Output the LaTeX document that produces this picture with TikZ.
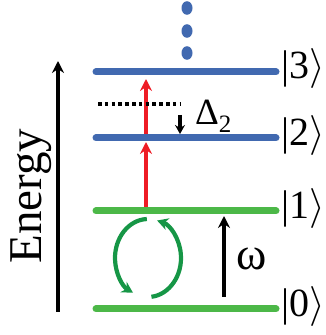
\documentclass[tikz,border=0pt]{standalone}
\usepackage{fix-cm}
\usepackage{fontspec}
\setmainfont{Liberation Serif}
\usetikzlibrary{arrows.meta}
\definecolor{lvlblue}{RGB}{65,105,176}
\definecolor{lvlgreen}{RGB}{76,184,72}
\definecolor{arcgreen}{RGB}{22,150,70}
\definecolor{redarr}{RGB}{238,28,37}
\tikzset{
  level/.style={line width=7pt,line cap=round},
  blue level/.style={level,draw=lvlblue},
  green level/.style={level,draw=lvlgreen},
  arrowtip/.style={-{Stealth[length=12pt,width=12pt,inset=4pt]}},
  smalltip/.style={-{Stealth[length=9pt,width=10pt,inset=3pt]}},
  redarrow/.style={arrowtip,draw=redarr,line width=3.4pt},
  blackarrow/.style={arrowtip,draw=black,line width=3.3pt},
  ket/.style={anchor=west,inner sep=0pt,font=\fontsize{40}{44}\selectfont},
  cyc/.style={draw=arcgreen,line width=4.2pt,-{Stealth[length=11pt,width=12pt,inset=3.5pt]}},
  dotdot/.style={fill=lvlblue,draw=none}
}
\begin{document}
\begin{tikzpicture}[x=1pt,y=1pt]
\useasboundingbox (0,0) rectangle (325,335);
% level end points
\coordinate (l3a) at (96,263); \coordinate (l3b) at (276,263);
\coordinate (l2a) at (96,197); \coordinate (l2b) at (276,197);
\coordinate (l1a) at (96,124); \coordinate (l1b) at (276,124);
\coordinate (l0a) at (96,26);  \coordinate (l0b) at (276,26);
% dots
\fill[dotdot] (187,327) ellipse [x radius=5.5pt, y radius=6.8pt];
\fill[dotdot] (187,304) ellipse [x radius=5.5pt, y radius=6.8pt];
\fill[dotdot] (187,282) ellipse [x radius=5.5pt, y radius=6.8pt];
% red arrows
\coordinate (r1s) at (146,124); \coordinate (r1e) at (146,193);
\coordinate (r2s) at (146,197); \coordinate (r2e) at (146,256);
\draw[redarrow] (r1s) -- (r1e);
\draw[redarrow] (r2s) -- (r2e);
% levels
\draw[blue level] (l3a) -- (l3b);
\draw[blue level] (l2a) -- (l2b);
\draw[green level] (l1a) -- (l1b);
\draw[green level] (l0a) -- (l0b);
% kets
\node[ket] (k3) at (281,266) {|3$\rangle$};
\node[ket] (k2) at (281,199) {|2$\rangle$};
\node[ket] (k1) at (281,126) {|1$\rangle$};
\node[ket] (k0) at (281,28) {|0$\rangle$};
% energy axis
\coordinate (es) at (58,23); \coordinate (ee) at (58,274);
\draw[blackarrow,line width=3.3pt] (es) -- (ee);
\node[rotate=90,inner sep=0pt,font=\fontsize{47}{50}\selectfont] (energy) at (31,139) {Energy};
% detuning
\coordinate (da) at (98,231); \coordinate (db) at (181,231);
\draw[line width=3.2pt,dash pattern=on 3.5pt off 3.3pt] (da) -- (db);
\coordinate (ds) at (180,220); \coordinate (de) at (180,201);
\draw[smalltip,line width=3.2pt] (ds) -- (de);
\node[anchor=base west,inner sep=0pt,font=\fontsize{37}{40}\selectfont] (delta) at (195,210) {Δ\raisebox{-8pt}{\fontsize{25}{28}\selectfont 2}};
% omega
\coordinate (ws) at (224,38); \coordinate (we) at (224,119);
\draw[blackarrow] (ws) -- (we);
\node[anchor=base west,inner sep=0pt,font=\fontsize{46}{50}\selectfont] (omega) at (236,65) {ω};
% cycle arrows
\coordinate (cc) at (148,77);
\draw[cyc] ([shift={(92:33pt and 39pt)}]cc) arc[start angle=92,end angle=243,x radius=33pt,y radius=39pt];
\draw[cyc] ([shift={(276:33pt and 39pt)}]cc) arc[start angle=276,end angle=434,x radius=33pt,y radius=39pt];
\end{tikzpicture}
\end{document}
